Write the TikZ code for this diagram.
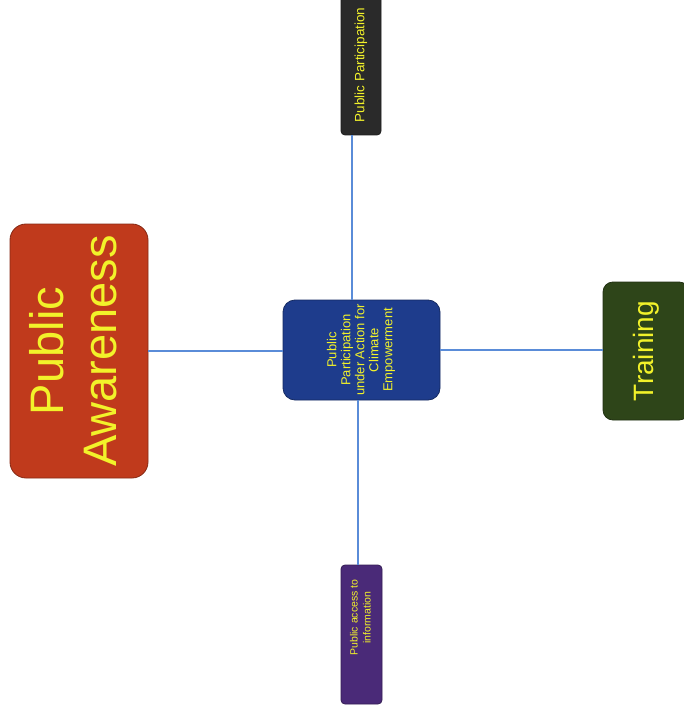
\documentclass[tikz,border=0pt]{standalone}
\usepackage{fontspec}
\setmainfont{Liberation Sans}
\definecolor{awarered}{HTML}{C03A1C}
\definecolor{ctrblue}{HTML}{1E3C8C}
\definecolor{ppgray}{HTML}{2A2A2A}
\definecolor{accpurple}{HTML}{4A2A78}
\definecolor{traingreen}{HTML}{2E4519}
\definecolor{lineblue}{HTML}{5A8CD8}
\definecolor{labelyellow}{HTML}{F2F22A}
\begin{document}
\begin{tikzpicture}[x=1pt,y=-1pt,
  box/.style={draw=#1!70!black, fill=#1, inner sep=0pt, line width=0.8pt, text=labelyellow},
  conn/.style={draw=lineblue, line width=1.2pt}]
\fill[white] (0,0) rectangle (683,719);
\useasboundingbox (0,0) rectangle (683,719);

\node[box=awarered, minimum width=138pt, minimum height=254pt, rounded corners=16pt] (pa) at (79,351)
  {\rotatebox{90}{\fontsize{47}{53}\selectfont\begin{tabular}{@{}c@{}}Public\\Awareness\end{tabular}}};

\node[box=ctrblue, minimum width=157pt, minimum height=100pt, rounded corners=12pt] (ctr) at (361.5,350)
  {\rotatebox{90}{\fontsize{13}{14}\selectfont\begin{tabular}{@{}c@{}}Public\\Participation\\under Action for\\Climate\\Empowerment\end{tabular}}};

\node[box=ppgray, minimum width=40pt, minimum height=140pt, rounded corners=4pt] (pp) at (361,65)
  {\rotatebox{90}{\fontsize{13.5}{15}\selectfont Public Participation}};

\node[box=accpurple, minimum width=41pt, minimum height=139pt, rounded corners=4pt] (pai) at (361.5,634.5)
  {\rotatebox{90}{\hspace*{34pt}\fontsize{10.5}{13}\selectfont\begin{tabular}{@{}c@{}}Public access to\\information\end{tabular}}};

\node[box=traingreen, minimum width=86pt, minimum height=138pt, rounded corners=10pt] (tr) at (646,351)
  {\rotatebox{90}{\fontsize{28}{32}\selectfont Training}};

\draw[conn] (pa.east) -- (pa.east -| ctr.west);
\draw[conn] (ctr.east) -- (ctr.east -| tr.west);
\draw[conn] ([xshift=-9pt]pp.south) -- ([xshift=-9pt]pp.south |- ctr.north);
\draw[conn] ([xshift=-3.5pt]ctr.south) -- ([xshift=-3.5pt]ctr.south |- pai.north);
\end{tikzpicture}
\end{document}
